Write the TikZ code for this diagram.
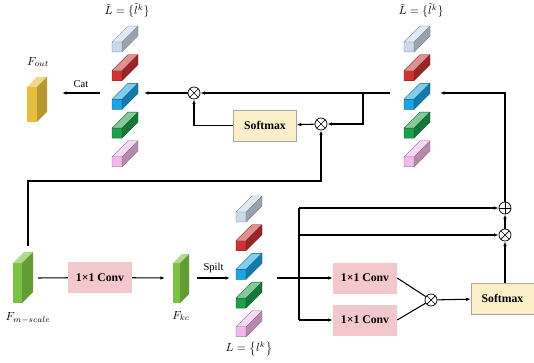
\documentclass[tikz,border=0pt]{standalone}
\usepackage{fontspec}
\setmainfont{Liberation Serif}
\usepackage{amsmath}
\usetikzlibrary{arrows.meta, positioning}

\definecolor{cubelight}{HTML}{C9D9EA}
\definecolor{cubered}{HTML}{CC3333}
\definecolor{cubeblue}{HTML}{1AA3E6}
\definecolor{cubegreen}{HTML}{1E9E48}
\definecolor{cubepink}{HTML}{F2B8EA}
\definecolor{convpink}{HTML}{F2C8CC}
\definecolor{softyellow}{HTML}{FBEFC9}
\definecolor{slabgold}{HTML}{E6BE3C}
\definecolor{slabgreen}{HTML}{7CC242}

\tikzset{
    % one token of a split feature, drawn as a small prism
    pics/tokcube/.style={code={
        \fill[#1] (0,0) rectangle (10,10);
        \fill[#1!55!white] (0,0) -- (16,-16) -- (26,-16) -- (10,0) -- cycle;
        \fill[#1!75!black] (10,0) -- (26,-16) -- (26,-6) -- (10,10) -- cycle;
        \draw[#1!55!black, line width=0.3pt, line join=round]
            (0,0) rectangle (10,10) (0,0) -- (16,-16) -- (26,-16) -- (26,-6) -- (10,10) (10,0) -- (26,-16);
    }},
    % a feature map: colour, width, height, depth
    pics/featslab/.style n args={4}{code={
        \fill[#1] (0,0) rectangle (#2,#3);
        \fill[#1!60!white] (0,0) -- (#4,-#4) -- (#2+#4,-#4) -- (#2,0) -- cycle;
        \fill[#1!80!black] (#2,0) -- (#2+#4,-#4) -- (#2+#4,#3-#4) -- (#2,#3) -- cycle;
    }}
}

\begin{document}
\begin{tikzpicture}[x=0.3mm, y=-0.3mm, line width=0.9pt,
                conv/.style={rectangle, fill=convpink, minimum width=19mm, minimum height=9.3mm, font=\bfseries},
                smax/.style={rectangle, draw=gray!70, line width=0.5pt, fill=softyellow, minimum width=18.8mm, minimum height=9.3mm, font=\bfseries},
                mul/.style={circle, draw, line width=0.6pt, fill=white, minimum size=3.6mm, inner sep=0pt,
                    path picture={\draw[line width=0.6pt] (path picture bounding box.south west) -- (path picture bounding box.north east)
                        (path picture bounding box.north west) -- (path picture bounding box.south east);}},
                add/.style={circle, draw, line width=0.6pt, fill=white, minimum size=3.6mm, inner sep=0pt,
                    path picture={\draw[line width=0.6pt] (path picture bounding box.north) -- (path picture bounding box.south)
                        (path picture bounding box.west) -- (path picture bounding box.east);}},
                lbl/.style={inner sep=1pt},
                arr/.style={-{Latex[length=4pt,width=3pt]}}]
    \useasboundingbox (0,0) rectangle (534,363);

    % token stacks
    \foreach \c [count=\i from 0] in {cubelight, cubered, cubeblue, cubegreen, cubepink} {
        \pic at (112,42+28.7*\i) {tokcube=\c};
        \pic at (404,42+28.7*\i) {tokcube=\c};
        \pic at (236,212+28.7*\i) {tokcube=\c};
    }

    % feature maps
    \pic at (27,87) {featslab={slabgold}{10}{35}{10}};
    \pic at (13,263) {featslab={slabgreen}{9}{40}{11}};
    \pic at (173,263) {featslab={slabgreen}{7}{40}{9}};

    % labels
    \node[lbl] (ltil) at (127,11) {$\tilde{L}=\{\tilde{l}^{k}\}$};
    \node[lbl] (rtil) at (421,11) {$\tilde{L}=\{\tilde{l}^{k}\}$};
    \node[lbl] (foutlbl) at (38,62) {$F_{out}$};
    \node[lbl] (fmslbl) at (28,318) {$F_{m-scale}$};
    \node[lbl] (fkclbl) at (181,316) {$F_{kc}$};
    \node[lbl] (lklbl) at (249,349) {$L=\left\{l^{k}\right\}$};

    % operators and blocks
    \node[mul] (otA) at (194,93) {};
    \node[mul] (otB) at (321,124) {};
    \node[smax] (smA) at (265,125.5) {Softmax};
    \node[conv] (cvA) at (100,277.5) {1×1 Conv};
    \node[conv] (cvB) at (365,278) {1×1 Conv};
    \node[conv] (cvC) at (365,320) {1×1 Conv};
    \node[mul] (otD) at (431,300) {};
    \node[smax] (smB) at (502.5,298.5) {Softmax};
    \node[mul] (otC) at (505,235) {};
    \node[add] (opC) at (505,208) {};

    % connector ends
    \coordinate (lkLe) at (144,93);
    \coordinate (lkLw) at (100,93);
    \coordinate (fout) at (62,93);
    \coordinate (lkRw) at (390,93);
    \coordinate (lkRe) at (440,93);
    \coordinate (brA) at (363,93);
    \coordinate (fmsTop) at (28,246);
    \coordinate (upA) at (28,181);
    \coordinate (fmsE) at (38,278);
    \coordinate (fkcW) at (165,278);
    \coordinate (fkcE) at (197,278);
    \coordinate (lkBw) at (230,278);
    \coordinate (lkBe) at (277,278);
    \coordinate (brTop) at (299,208);
    \coordinate (brBot) at (299,320);

    % top branch
    \draw[arr] (lkRw) -- (otA);
    \draw[arr] (otA) -- (lkLe);
    \draw[arr] (lkLw) -- node[above=1pt, font=\small] {Cat} (fout);
    \draw[arr] (brA) |- (otB);
    \draw[arr] (otB) -- (smA);
    \draw[arr] (smA.west) -| (otA);
    \draw[arr] (fmsTop) -- (upA) -| (otB);

    % bottom branch
    \draw (fmsE) -- (cvA);
    \draw[arr] (cvA) -- (fkcW);
    \draw[arr] (fkcE) -- node[above=1pt, font=\small] {Spilt} (lkBw);
    \draw[arr] (lkBe) -- (cvB);
    \draw (brTop) -- (brBot);
    \draw[arr] (brTop) -- (opC);
    \draw[arr] (brTop |- otC) -- (otC);
    \draw[arr] (brBot) -- (cvC);
    \draw (cvB.east) -- (otD);
    \draw (cvC.east) -- (otD);
    \draw[arr] (otD) -- (smB);
    \draw[arr] (smB.north -| otC) -- (otC);
    \draw[arr] (otC) -- (opC);
    \draw[arr] (opC) |- (lkRe);
\end{tikzpicture}
\end{document}
